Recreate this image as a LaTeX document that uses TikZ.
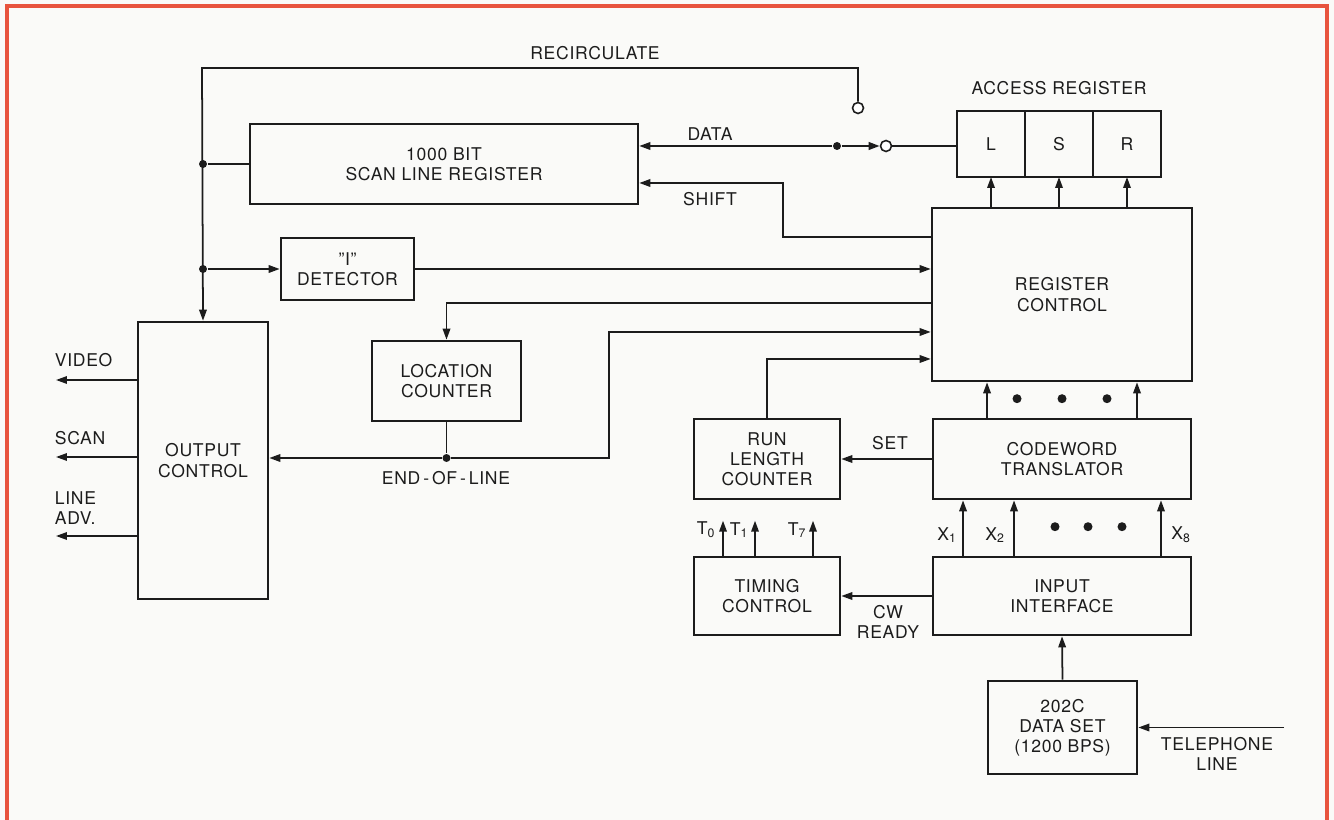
\documentclass[tikz,border=0pt]{standalone}
\usepackage{fontspec}
\setmainfont{TeX Gyre Heros}[LetterSpace=4]
\usetikzlibrary{arrows.meta,positioning}
\definecolor{frame}{RGB}{232,84,62}
\definecolor{ink}{RGB}{28,28,28}
\definecolor{paper}{RGB}{250,250,248}
\begin{document}
\begin{tikzpicture}[x=0.02cm, y=-0.02cm, color=ink, line width=1pt, every node/.style={font=\fontsize{10}{11.5}\selectfont}, blk/.style={draw, line width=1.5pt, align=center, inner sep=0pt}, cell/.style={draw, line width=1.5pt, outer sep=0pt, minimum width=1.36cm, minimum height=1.32cm}, lbl/.style={inner sep=0pt, align=center}, arr/.style={-{Triangle[length=0.22cm,width=0.15cm]}}, dot/.style={circle, fill, inner sep=0pt, minimum size=0.16cm}, bigdot/.style={circle, fill, inner sep=0pt, minimum size=0.18cm}, opn/.style={circle, draw, fill=white, line width=0.9pt, inner sep=0pt, minimum size=0.22cm}]
\useasboundingbox (0,0) rectangle (1334,820);
\fill[paper] (0,0) rectangle (1334,820);
\draw[frame, line width=2pt] (7,6) rectangle (1327,860);
% blocks
\node[blk, minimum width=7.76cm, minimum height=1.6cm] (scan) at (444,164) {1000 BIT\\SCAN LINE REGISTER};
\node[blk, minimum width=2.66cm, minimum height=1.24cm] (det) at (347.5,269) {''I''\\DETECTOR};
\node[blk, minimum width=2.6cm, minimum height=5.54cm] (outc) at (203,460.5) {OUTPUT\\CONTROL};
\node[blk, minimum width=2.98cm, minimum height=1.6cm] (loc) at (446.5,381) {LOCATION\\COUNTER};
\node[blk, minimum width=5.2cm, minimum height=3.46cm] (regc) at (1062,294.5) {REGISTER\\CONTROL};
\node[cell] (accl) at (991,144) {L};
\node[cell, right=0pt of accl] (accs) {S};
\node[cell, right=0pt of accs] (accr) {R};
\node[lbl, above=0.3cm of accs] (acct) {ACCESS REGISTER};
\node[blk, minimum width=2.92cm, minimum height=1.6cm] (run) at (767,459) {RUN\\LENGTH\\COUNTER};
\node[blk, minimum width=5.16cm, minimum height=1.6cm] (cwt) at (1062,459) {CODEWORD\\TRANSLATOR};
\node[blk, minimum width=2.92cm, minimum height=1.56cm] (tim) at (767,596) {TIMING\\CONTROL};
\node[blk, minimum width=5.16cm, minimum height=1.56cm] (inp) at (1062,596) {INPUT\\INTERFACE};
\node[blk, minimum width=2.98cm, minimum height=1.86cm] (dset) at (1062.5,727.5) {202C\\DATA SET\\(1200 BPS)};
% switch and junctions
\node[opn] (rc) at (858,108) {};
\node[opn] (dc) at (886,146) {};
\node[dot] (sw) at (837,146) {};
\coordinate (bt) at (202,68);
\node[dot] (j1) at (outc.north |- scan.west) {};
\node[dot] (j2) at (outc.north |- det.west) {};
\node[dot] (eol) at (446.5,458) {};
\coordinate (eolb) at (609,458);
\coordinate (sh) at (783,183);
\coordinate (vid) at (56,380);
\coordinate (scn) at (56,457);
\coordinate (adv) at (56,536);
\coordinate (tel) at (1284,727.5);
% connectors
\draw[arr] (rc.north) |- (bt) -- (outc.north);
\draw (scan.west) -- (j1);
\draw[arr] (j2) -- (det.west);
\draw[arr] (det.east) -- (regc.west |- det.east);
\draw[arr] (sw) -- (scan.east |- sw);
\draw[arr, line width=1.3pt] (sw) -- (dc.west);
\draw (dc) -- (accl.west |- dc);
\draw[arr] ([yshift=1.15cm]regc.west) -| (sh) -- (scan.east |- sh);
\draw[arr] ([yshift=-0.17cm]regc.west) -| (loc.north);
\draw (loc.south) -- (eol);
\draw[arr] (eol) -- (outc.east |- eol);
\draw[arr] (eol) -- (eolb) |- ([yshift=-0.75cm]regc.west);
\draw[arr] (run.north) |- ([yshift=-1.29cm]regc.west);
\foreach \c in {accl,accs,accr} \draw[arr] (regc.north -| \c.south) -- (\c.south);
\foreach \dx in {-1.5,1.5} \draw[arr] ([xshift=\dx cm]cwt.north) -- ([xshift=\dx cm]regc.south);
\foreach \dx in {-0.9,0,0.9} \node[bigdot] at ([xshift=\dx cm, yshift=0.38cm]cwt.north) {};
\draw[arr] (cwt.west) -- (run.east);
\draw[arr] (inp.west) -- (tim.east);
\foreach \dx in {-1.98,-0.96,1.98} \draw[arr] ([xshift=\dx cm]inp.north) -- ([xshift=\dx cm]cwt.south);
\foreach \dx in {-0.14,0.52,1.2} \node[bigdot] at ([xshift=\dx cm, yshift=0.58cm]inp.north) {};
\foreach \dx in {-0.88,-0.24,0.92} \draw[arr] ([xshift=\dx cm]tim.north) -- ++(0,-35);
\draw[arr] (dset.north) -- (inp.south);
\draw[arr] (tel) -- (dset.east |- tel);
\draw[arr] (outc.west |- vid) -- (vid);
\draw[arr] (outc.west |- scn) -- (scn);
\draw[arr] (outc.west |- adv) -- (adv);
% labels
\node[lbl] (rct) at (595,53) {RECIRCULATE};
\node[lbl] (dat) at (710,134) {DATA};
\node[lbl] (sht) at (710,199) {SHIFT};
\node[lbl] (eolt) at (446,478) {END\,-\,OF\,-\,LINE};
\node[lbl] (sett) at (890,443) {SET};
\node[lbl] (cwr) at (888,622) {CW\\READY};
\node[lbl, anchor=west] (vidt) at (54,360) {VIDEO};
\node[lbl, anchor=west] (scnt) at (54,438) {SCAN};
\node[lbl, anchor=west, align=left] (advt) at (54,508) {LINE\\ADV.};
\node[lbl] (t0) at (706,530) {T\textsubscript{0}};
\node[lbl] (t1) at (739,530) {T\textsubscript{1}};
\node[lbl] (t7) at (797,530) {T\textsubscript{7}};
\node[lbl] (x1) at (947,535) {X\textsubscript{1}};
\node[lbl] (x2) at (995,535) {X\textsubscript{2}};
\node[lbl] (x8) at (1181,535) {X\textsubscript{8}};
\node[lbl] (telt) at (1217,754) {TELEPHONE\\LINE};
\end{tikzpicture}
\end{document}
